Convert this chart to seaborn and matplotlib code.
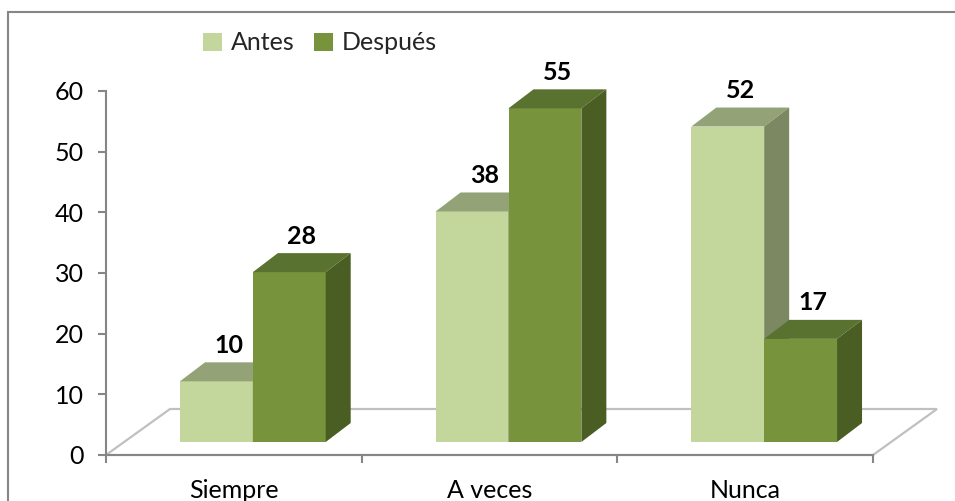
import numpy as np
import pandas as pd
import matplotlib
matplotlib.use("Agg")
import matplotlib.pyplot as plt
import matplotlib.transforms as mtransforms
from matplotlib.patches import Polygon, Rectangle, Patch
import seaborn as sns

# datos
categorias = ["Siempre", "A veces", "Nunca"]
series = ["Antes", "Después"]
antes = [10, 38, 52]
despues = [28, 55, 17]
yticks = [0, 10, 20, 30, 40, 50, 60]

col_frente = {"Antes": "#c3d69b", "Después": "#77933c"}
col_arriba = {"Antes": "#93a377", "Después": "#5a7230"}
col_lado = {"Antes": "#7c8862", "Después": "#4a5e24"}

df = pd.DataFrame({
    "categoria": categorias * 2,
    "momento": ["Antes"] * len(antes) + ["Después"] * len(despues),
    "valor": antes + despues,
})

sns.set_style("white")
plt.rcParams["font.family"] = ["Lato", "DejaVu Sans"]
gris = "#868686"
fs = 18

W, H, dpi = 955, 501, 100
fig = plt.figure(figsize=(W / dpi, H / dpi), dpi=dpi)
ax = fig.add_axes([106 / W, 1 - 455 / H, 767 / W, 364 / H])
ax.patch.set_alpha(0)

sns.barplot(data=df, x="categoria", y="valor", hue="momento", palette=col_frente,
            width=0.57, gap=0, saturation=1, linewidth=0, errorbar=None,
            legend=False, ax=ax)
ax.set_xlim(-0.5, 2.5)
ax.set_ylim(0, 60)

# pixeles por unidad de datos
p0 = ax.transData.transform((0, 0))
p1 = ax.transData.transform((1, 1))
ux, uy = p1[0] - p0[0], p1[1] - p0[1]

# efecto 3D: plano de las barras y profundidad
plano = ax.transData + mtransforms.ScaledTranslation(19 / dpi, 13 / dpi, fig.dpi_scale_trans)
ddx, ddy = 25 / ux, 19 / uy
fdx, fdy = 64 / ux, 46 / uy

# suelo
suelo = Polygon([(-0.5, 0), (2.5, 0), (2.5 + fdx, fdy), (-0.5 + fdx, fdy)],
                closed=True, fc="white", ec="#c0c0c0", lw=1.6, zorder=0.5,
                clip_on=False, transform=ax.transData)
ax.add_patch(suelo)

barras = list(ax.patches)
barras = [b for b in barras if b is not suelo]
for i, b in enumerate(barras):
    s = series[i // len(categorias)]
    z = 2 + i // len(categorias)
    x, w, h = b.get_x(), b.get_width(), b.get_height()
    b.set_transform(plano)
    b.set_zorder(z)
    b.set_clip_on(False)
    arriba = Polygon([(x, h), (x + w, h), (x + w + ddx, h + ddy), (x + ddx, h + ddy)],
                     closed=True, fc=col_arriba[s], lw=0, zorder=z,
                     transform=plano, clip_on=False)
    lado = Polygon([(x + w, 0), (x + w + ddx, ddy), (x + w + ddx, h + ddy), (x + w, h)],
                   closed=True, fc=col_lado[s], lw=0, zorder=z,
                   transform=plano, clip_on=False)
    ax.add_patch(arriba)
    ax.add_patch(lado)
    ax.annotate(f"{h:.0f}", xy=(x + w / 2 + ddx * 0.5, h + ddy), xycoords=plano,
                xytext=(0, 4), textcoords="offset points", ha="center", va="bottom",
                fontsize=fs, fontweight="bold", color="black", zorder=5)

# ejes
for lado_ in ["top", "right"]:
    ax.spines[lado_].set_visible(False)
for lado_ in ["left", "bottom"]:
    ax.spines[lado_].set_color(gris)
    ax.spines[lado_].set_linewidth(1.5)
ax.set_yticks(yticks)
ax.set_xticks(range(len(categorias)))
ax.set_xticklabels(categorias)
ax.set_xticks([-0.5, 0.5, 1.5, 2.5], minor=True)
ax.tick_params(axis="y", left=True, length=6, width=1.5, color=gris, pad=10,
               labelsize=fs, labelcolor="black")
ax.tick_params(axis="x", which="major", bottom=True, length=0, pad=17,
               labelsize=fs, labelcolor="black")
ax.tick_params(axis="x", which="minor", bottom=True, length=6, width=1.5, color=gris)
ax.set_xlabel("")
ax.set_ylabel("")

# marco del grafico
fig.add_artist(Rectangle((8 / W, -0.1), 1.2, (1 - 12 / H) + 0.1, transform=fig.transFigure,
                         fill=False, ec=gris, lw=1.5))

handles = [Patch(fc=col_frente[s], lw=0) for s in series]
fig.legend(handles, series, loc="center left", bbox_to_anchor=(203 / W, 1 - 43 / H),
           ncol=2, frameon=False, handlelength=0.75, handleheight=0.75,
           handletextpad=0.35, columnspacing=0.8, borderpad=0, borderaxespad=0,
           fontsize=fs)

fig.savefig("out.png", dpi=dpi)
